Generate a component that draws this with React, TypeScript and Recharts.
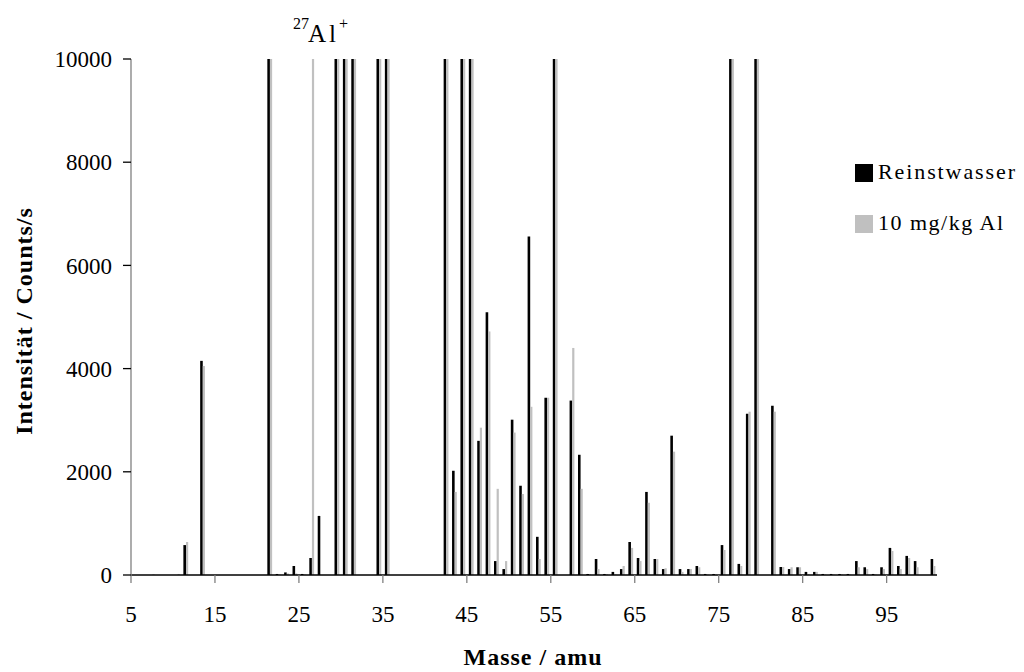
import React from 'react';
import { BarChart, Bar, XAxis, YAxis, Legend } from 'recharts';

const masses = [
  5, 6, 7, 8, 9, 10, 11, 12, 13, 14, 15, 16, 17, 18, 19, 20,
  21, 22, 23, 24, 25, 26, 27, 28, 29, 30, 31, 32, 33, 34, 35, 36,
  37, 38, 39, 40, 41, 42, 43, 44, 45, 46, 47, 48, 49, 50, 51, 52,
  53, 54, 55, 56, 57, 58, 59, 60, 61, 62, 63, 64, 65, 66, 67, 68,
  69, 70, 71, 72, 73, 74, 75, 76, 77, 78, 79, 80, 81, 82, 83, 84,
  85, 86, 87, 88, 89, 90, 91, 92, 93, 94, 95, 96, 97, 98, 99, 100,
];

// Reinstwasser (values >= 10000 are off-scale)
const reinstwasser = [
  0, 0, 0, 0, 0, 0, 580, 0, 4150, 0, 0, 0, 0, 0, 0, 0,
  10000, 20, 50, 175, 20, 330, 1145, 0, 10000, 10000, 10000, 0, 0, 10000, 10000, 0,
  0, 0, 0, 0, 0, 10000, 2020, 10000, 10000, 2600, 5090, 270, 115, 3010, 1730, 6560,
  740, 3435, 10000, 0, 3380, 2330, 20, 310, 20, 60, 115, 640, 330, 1610, 310, 115,
  2700, 115, 115, 175, 20, 20, 580, 10000, 215, 3125, 10000, 0, 3280, 155, 115, 150,
  60, 60, 20, 20, 20, 20, 270, 150, 20, 150, 525, 175, 370, 270, 0, 310,
];

// 10 mg/kg Al
const aluminium = [
  0, 0, 15, 0, 0, 20, 640, 0, 4050, 0, 0, 0, 0, 0, 0, 0,
  10000, 10, 30, 30, 10, 10000, 0, 0, 10000, 10000, 10000, 0, 0, 10000, 10000, 0,
  0, 0, 0, 0, 0, 10000, 1610, 10000, 10000, 2855, 4720, 1670, 270, 2760, 1570, 3260,
  310, 3435, 10000, 0, 4400, 1670, 15, 115, 15, 10, 175, 525, 270, 1400, 310, 130,
  2390, 60, 115, 150, 10, 10, 485, 10000, 175, 3165, 10000, 0, 3165, 155, 150, 150,
  20, 60, 10, 10, 10, 10, 150, 115, 10, 115, 465, 115, 330, 150, 0, 175,
];

const xTicks = [4.5, 14.5, 24.5, 34.5, 44.5, 54.5, 64.5, 74.5, 84.5, 94.5];
const yTicks = [0, 2000, 4000, 6000, 8000, 10000];

const seriesNames = ['Reinstwasser', '10 mg/kg Al'];
const seriesColors = ['#000000', '#c0c0c0'];

const data = masses.map((m, i) => ({ mass: m, rein: reinstwasser[i], al: aluminium[i] }));

const FONT = '"Liberation Serif", "Times New Roman", serif';

const renderLegend = (props: any) => {
  const payload = [...(props.payload || [])].sort(
    (a: any, b: any) => seriesNames.indexOf(a.value) - seriesNames.indexOf(b.value)
  );
  return (
    <svg width={165} height={75} style={{ display: 'block', overflow: 'visible' }}>
      {payload.map((entry: any, i: number) => (
        <g key={i}>
          <rect x={0} y={i * 51} width={18} height={18} fill={entry.color} />
          <text
            x={23}
            y={i * 51 + 15}
            fontFamily={FONT}
            fontSize={22}
            letterSpacing={i === 0 ? 1.9 : 1.5}
            fill="#000"
          >
            {entry.value}
          </text>
        </g>
      ))}
    </svg>
  );
};

export default function App() {
  return (
    <div style={{ position: 'relative', width: 1016, height: 664 }}>
      <BarChart
        width={1016}
        height={664}
        data={data}
        margin={{ top: 51, right: 87, left: 63, bottom: 37 }}
        barGap={0}
      >
        <XAxis
          dataKey="mass"
          type="number"
          domain={[4.5, 100.5]}
          ticks={xTicks}
          interval={0}
          tickFormatter={(v: number) => String(v + 0.5)}
          height={60}
          tickSize={8}
          tickMargin={23}
          axisLine={{ stroke: '#000', strokeWidth: 1.3 }}
          tickLine={{ stroke: '#808080', strokeWidth: 1.3 }}
          tick={{ fill: '#000', fontFamily: FONT, fontSize: 23 }}
        />
        <YAxis
          type="number"
          domain={[0, 10000]}
          ticks={yTicks}
          interval={0}
          width={60}
          tickSize={8}
          tickMargin={11}
          axisLine={{ stroke: '#808080', strokeWidth: 1.3 }}
          tickLine={{ stroke: '#000', strokeWidth: 1.3 }}
          tick={{ fill: '#000', fontFamily: FONT, fontSize: 23 }}
          allowDataOverflow
        />
        <Legend
          layout="vertical"
          verticalAlign="middle"
          align="center"
          content={renderLegend}
          wrapperStyle={{ left: 847, top: 156, width: 165, height: 75 }}
        />
        <Bar dataKey="rein" name={seriesNames[0]} fill={seriesColors[0]} barSize={2.6} isAnimationActive={false} />
        <Bar dataKey="al" name={seriesNames[1]} fill={seriesColors[1]} barSize={2.2} isAnimationActive={false} />
      </BarChart>
      <svg
        width={1016}
        height={664}
        style={{ position: 'absolute', left: 0, top: 0, pointerEvents: 'none' }}
      >
        <text
          transform="translate(24,313) rotate(-90)"
          textAnchor="middle"
          fontFamily={FONT}
          fontSize={24}
          fontWeight="bold"
          letterSpacing={1}
          fill="#000"
        >
          Intensität / Counts/s
        </text>
        <text
          x={525}
          y={657}
          textAnchor="middle"
          fontFamily={FONT}
          fontSize={24}
          fontWeight="bold"
          letterSpacing={1}
          fill="#000"
        >
          Masse / amu
        </text>
        <text fontFamily={FONT} fill="#000">
          <tspan x={285} y={21} fontSize={16}>27</tspan>
          <tspan x={300} y={34} fontSize={25} letterSpacing={3}>Al</tspan>
          <tspan x={331} y={21} fontSize={16}>+</tspan>
        </text>
      </svg>
    </div>
  );
}
